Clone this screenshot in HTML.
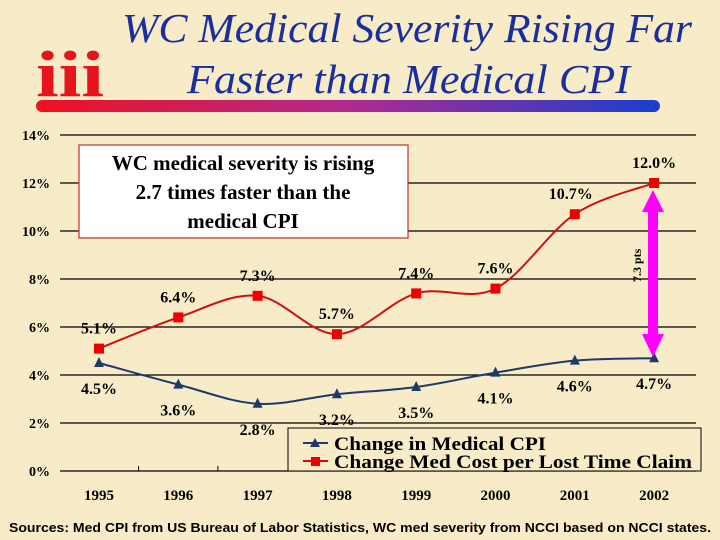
<!DOCTYPE html>
<html><head><meta charset="utf-8"><style>
body{margin:0;background:#f8ecc8;}
svg{display:block;font-family:"Liberation Serif",serif;}
</style></head><body>
<svg id="svg" width="720" height="540" viewBox="0 0 720 540">
<defs>
<linearGradient id="bar" x1="0" x2="1"><stop offset="0" stop-color="#ee1122"/><stop offset="0.5" stop-color="#b02a90"/><stop offset="1" stop-color="#1a3ed0"/></linearGradient>
</defs>
<rect width="720" height="540" fill="#f8ecc8"/>
<text x="36" y="96" fill="#e8141c" font-weight="bold" font-size="66" textLength="68" lengthAdjust="spacingAndGlyphs">iii</text>
<text x="122" y="42" font-style="italic" font-size="41" fill="#1a2e9e" textLength="570" lengthAdjust="spacingAndGlyphs">WC Medical Severity Rising Far</text>
<text x="187" y="93" font-style="italic" font-size="41" fill="#1a2e9e" textLength="443" lengthAdjust="spacingAndGlyphs">Faster than Medical CPI</text>
<rect x="36" y="100" width="624" height="12" rx="6" fill="url(#bar)"/>
<g id="grid"></g>
<g id="marks"></g>
<rect x="79" y="145" width="329" height="93" fill="#fff" stroke="#c0302a" stroke-width="1.2"/>
<text font-weight="bold" font-size="21" text-anchor="middle">
<tspan x="243" y="170">WC medical severity is rising</tspan><tspan x="243" y="199">2.7 times faster than the</tspan><tspan x="243" y="228">medical CPI</tspan></text>
<g fill="#ff00ff">
<rect x="648" y="208" width="10" height="130"/>
<polygon points="653,190 642,212 664,212"/>
<polygon points="653,357 642,334 664,334"/>
</g>
<text transform="translate(641,282) rotate(-90)" font-size="12" font-weight="bold">7.3 pts</text>
<g>
<rect x="288" y="428" width="413" height="43" fill="#f8ecc8" stroke="#000" stroke-width="1"/>
<line x1="303" y1="443" x2="328" y2="443" stroke="#1f3a6a" stroke-width="2"/>
<polygon points="315,438 310,447 320,447" fill="#1f3a6a"/>
<text x="334" y="450" font-size="19" font-weight="bold" textLength="212" lengthAdjust="spacingAndGlyphs">Change in Medical CPI</text>
<line x1="303" y1="461" x2="328" y2="461" stroke="#e00" stroke-width="2"/>
<rect x="311" y="457" width="9" height="9" fill="#e00"/>
<text x="334" y="468" font-size="19" font-weight="bold" textLength="358" lengthAdjust="spacingAndGlyphs">Change Med Cost per Lost Time Claim</text>
</g>
<text x="360" y="532" text-anchor="middle" font-family="Liberation Sans,sans-serif" font-size="12.5" font-weight="bold" textLength="702" lengthAdjust="spacingAndGlyphs">Sources:  Med CPI from US Bureau of Labor Statistics, WC med severity from NCCI based on NCCI states.</text>
</svg>
<script>
const years=["1995","1996","1997","1998","1999","2000","2001","2002"];
const cpi=[4.5,3.6,2.8,3.2,3.5,4.1,4.6,4.7];
const severity=[5.1,6.4,7.3,5.7,7.4,7.6,10.7,12.0];
const yTicks=[0,2,4,6,8,10,12,14];
const NS="http://www.w3.org/2000/svg";
const X=i=>99+i*79.3, Y=v=>471-v*(336/14);
function el(t,a,p){const e=document.createElementNS(NS,t);for(const k in a)e.setAttribute(k,a[k]);p.appendChild(e);return e;}
const grid=document.getElementById('grid'), marks=document.getElementById('marks');
yTicks.forEach(v=>{
 const l=el('line',{x1:60,x2:696,y1:Y(v),y2:Y(v),stroke:'#000','stroke-width':1.2},grid);
 
 
 const t=el('text',{x:50,y:Y(v)+5,'text-anchor':'end','font-size':14,'font-weight':'bold'},grid);
 t.textContent=v+'%';
 
 
});
years.forEach((y,i)=>{
 const t=el('text',{x:X(i),y:500,'text-anchor':'middle','font-size':15,'font-weight':'bold'},grid);
 t.textContent=y;
 
 
 if(i!==7){const k=el('line',{x1:X(i)+39.6,x2:X(i)+39.6,y1:Y(0),y2:Y(0)-5,stroke:'#000'},grid);
 
 }
});
function smooth(vals){
 const p=vals.map((v,i)=>[X(i),Y(v)]);let d='M'+p[0];
 for(let i=0;i!==p.length-1;i++){const p0=p[i-1]||p[i],p1=p[i],p2=p[i+1],p3=p[i+2]||p2;
 const c1=[p1[0]+(p2[0]-p0[0])/6,p1[1]+(p2[1]-p0[1])/6],c2=[p2[0]-(p3[0]-p1[0])/6,p2[1]-(p3[1]-p1[1])/6];
 d+=' C'+c1+' '+c2+' '+p2;}return d;}
const lc=el('path',{d:smooth(cpi),fill:'none',stroke:'#1f3a6a','stroke-width':2},marks);


const ls=el('path',{d:smooth(severity),fill:'none',stroke:'#d01010','stroke-width':2},marks);


cpi.forEach((v,i)=>{
 const x=X(i),y=Y(v);
 const m=el('polygon',{points:`${x},${y-6} ${x-5},${y+4} ${x+5},${y+4}`,fill:'#1f3a6a'},marks);
 
 
 const t=el('text',{x:x,y:y+31,'text-anchor':'middle','font-size':16,'font-weight':'bold'},marks);
 t.textContent=v.toFixed(1)+'%';
 
 
});
severity.forEach((v,i)=>{
 const x=X(i),y=Y(v);
 const m=el('rect',{x:x-5,y:y-5,width:10,height:10,fill:'#e00'},marks);
 
 
 const dx=i===6?-4:0;
 const t=el('text',{x:x+dx,y:y-15,'text-anchor':'middle','font-size':16,'font-weight':'bold'},marks);
 t.textContent=v.toFixed(1)+'%';
 
 
});
</script>
</body></html>
